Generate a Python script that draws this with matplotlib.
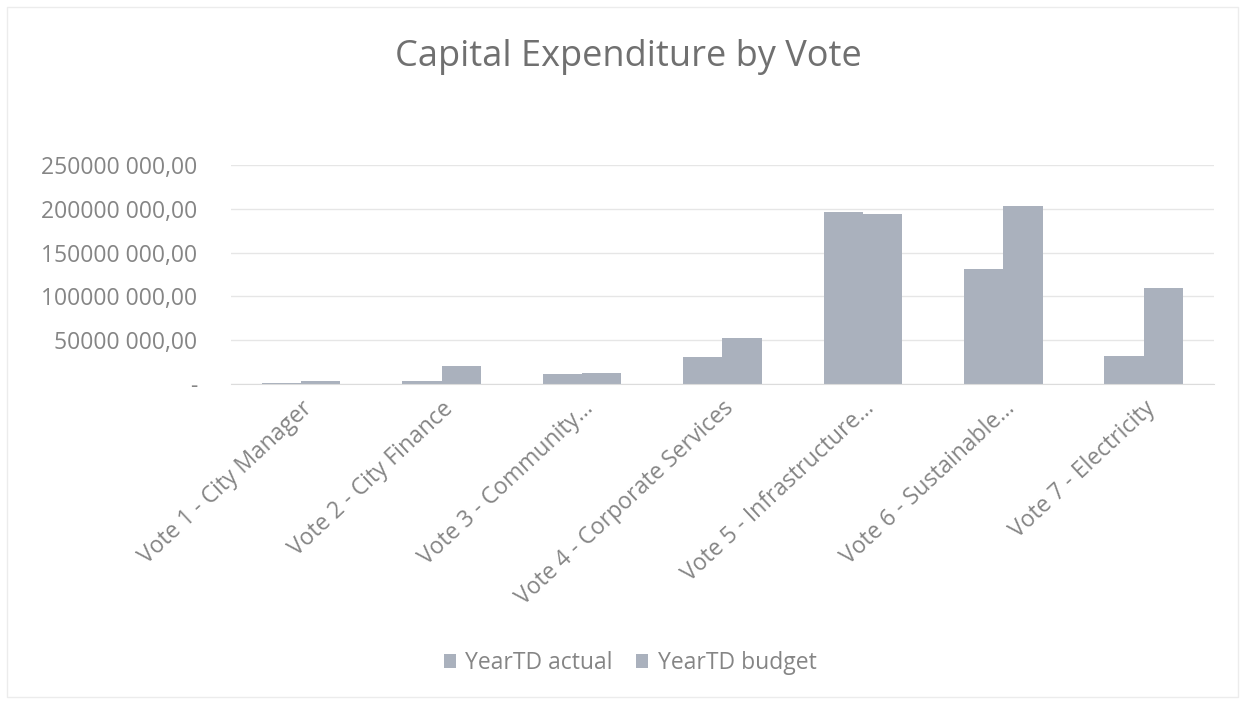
import numpy as np
import matplotlib
matplotlib.use("Agg")
import matplotlib.pyplot as plt
from matplotlib.ticker import FuncFormatter

plt.rcParams["font.family"] = ["Open Sans", "DejaVu Sans"]

votes = [
    "Vote 1 - City Manager",
    "Vote 2 - City Finance",
    "Vote 3 - Community...",
    "Vote 4 - Corporate Services",
    "Vote 5 - Infrastructure...",
    "Vote 6 - Sustainable...",
    "Vote 7 - Electricity",
]
actual = [1.5e6, 4e6, 12e6, 31e6, 196e6, 131e6, 32e6]
budget = [4e6, 21e6, 13e6, 53e6, 194e6, 203e6, 110e6]

BAR_COLOR = "#aab1bd"
TEXT_COLOR = "#858585"
GRID_COLOR = "#e6e6e6"


def fmt(v, pos):
    # excel-style "250000 000,00", zero shown as a dash
    if v == 0:
        return "-"
    v = int(round(v))
    return f"{v // 1000} {v % 1000:03d},00"


fig = plt.figure(figsize=(12.45, 7.04), dpi=100)
fig.patches.append(plt.Rectangle((0.006, 0.01), 0.988, 0.98, transform=fig.transFigure,
                                 fill=False, edgecolor="#ececec", linewidth=1))
ax = fig.add_axes([0.1855, 0.4545, 0.7895, 0.311])

x = np.arange(len(votes))
w = 0.28
ax.bar(x - w / 2, actual, w, color=BAR_COLOR, label="YearTD actual")
ax.bar(x + w / 2, budget, w, color=BAR_COLOR, label="YearTD budget")

ax.set_xlim(-0.5, 6.5)
ax.set_ylim(0, 250e6)
ax.set_yticks(np.arange(0, 250e6 + 1, 50e6))
ax.yaxis.set_major_formatter(FuncFormatter(fmt))
ax.grid(axis="y", color=GRID_COLOR, linewidth=1)
ax.set_axisbelow(True)
for s in ["top", "right", "left"]:
    ax.spines[s].set_visible(False)
ax.spines["bottom"].set_color("#dcdcdc")
ax.tick_params(axis="both", length=0, colors=TEXT_COLOR, labelsize=16.5)
ax.tick_params(axis="y", pad=24)
ax.set_xticks(x)
ax.set_xticklabels(votes, rotation=43, ha="right", rotation_mode="anchor")
ax.tick_params(axis="x", pad=9)

fig.suptitle("Capital Expenditure by Vote", x=0.505, y=0.945, fontsize=26, color="#707070")

fig.legend(loc="center", bbox_to_anchor=(0.506, 0.058), ncol=2, frameon=False,
           fontsize=16.5, labelcolor=TEXT_COLOR, handlelength=0.55, handleheight=0.55,
           handletextpad=0.4, columnspacing=1.0)

fig.savefig("out.png", dpi=100, facecolor="white")
